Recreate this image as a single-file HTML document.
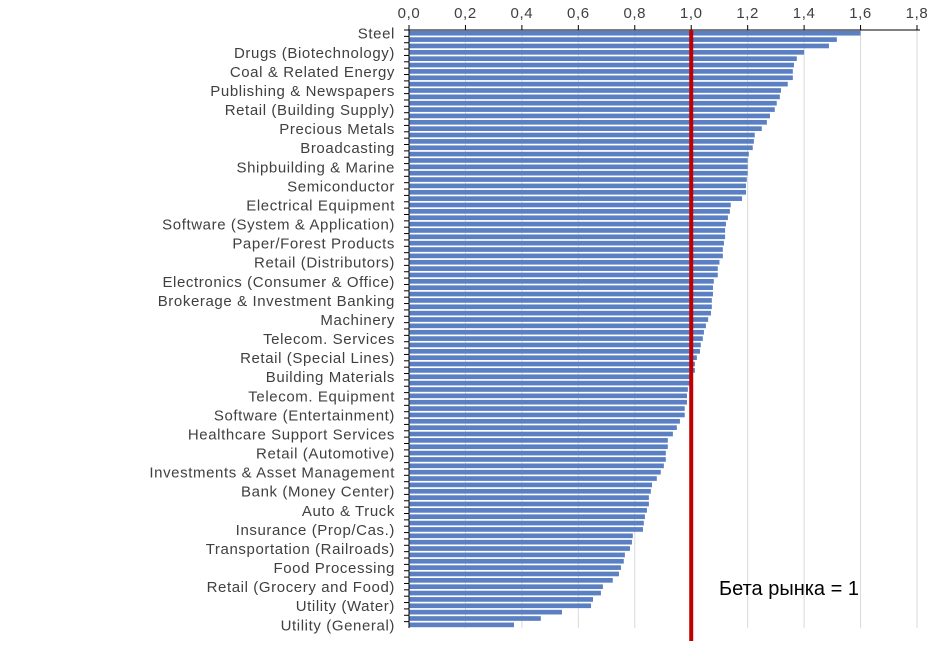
<!DOCTYPE html>
<html><head><meta charset="utf-8"><style>
body{margin:0;background:#fff;width:945px;height:650px;overflow:hidden}
svg text{font-family:"Liberation Sans","DejaVu Sans",sans-serif}
</style></head><body>
<svg id="chart" width="945" height="650" xmlns="http://www.w3.org/2000/svg"></svg>
<script>
const labels=["Steel","","","Drugs (Biotechnology)","","","Coal & Related Energy","","","Publishing & Newspapers","","","Retail (Building Supply)","","","Precious Metals","","","Broadcasting","","","Shipbuilding & Marine","","","Semiconductor","","","Electrical Equipment","","","Software (System & Application)","","","Paper/Forest Products","","","Retail (Distributors)","","","Electronics (Consumer & Office)","","","Brokerage & Investment Banking","","","Machinery","","","Telecom. Services","","","Retail (Special Lines)","","","Building Materials","","","Telecom. Equipment","","","Software (Entertainment)","","","Healthcare Support Services","","","Retail (Automotive)","","","Investments & Asset Management","","","Bank (Money Center)","","","Auto & Truck","","","Insurance (Prop/Cas.)","","","Transportation (Railroads)","","","Food Processing","","","Retail (Grocery and Food)","","","Utility (Water)","","","Utility (General)"];
const betas=[1.60,1.516,1.488,1.40,1.374,1.364,1.36,1.36,1.342,1.318,1.314,1.303,1.296,1.279,1.268,1.25,1.225,1.222,1.218,1.204,1.20,1.20,1.20,1.197,1.194,1.194,1.18,1.14,1.137,1.13,1.123,1.12,1.12,1.116,1.112,1.112,1.10,1.094,1.094,1.08,1.077,1.077,1.073,1.073,1.07,1.06,1.052,1.045,1.041,1.034,1.031,1.02,1.013,1.013,1.0,0.998,0.988,0.985,0.985,0.977,0.977,0.96,0.949,0.935,0.917,0.917,0.91,0.91,0.903,0.892,0.878,0.861,0.857,0.85,0.85,0.843,0.836,0.832,0.829,0.793,0.79,0.783,0.765,0.761,0.751,0.744,0.722,0.687,0.68,0.652,0.645,0.542,0.467,0.372];
const ticks=["0,0","0,2","0,4","0,6","0,8","1,0","1,2","1,4","1,6","1,8"];
const tickVals=[0,0.2,0.4,0.6,0.8,1.0,1.2,1.4,1.6,1.8];
const marketBeta=[1.0];

const NS="http://www.w3.org/2000/svg";
const svg=document.getElementById('chart');
const x0=409,x1=917,vmax=1.8,yTop=30,yBottom=628;
const X=v=>x0+(v/vmax)*(x1-x0);
const pitch=(yBottom-yTop)/betas.length;
const Y=i=>yTop+i*pitch;
function mk(t,a){const e=document.createElementNS(NS,t);for(const k in a)e.setAttribute(k,a[k]);svg.appendChild(e);return e;}
tickVals.forEach((v,i)=>{
  if(i>0){const g=mk('line',{x1:X(v),x2:X(v),y1:yTop,y2:yBottom,stroke:'#d9d9d9','stroke-width':1});
  
  }
  const t=mk('line',{x1:X(v),x2:X(v),y1:yTop-5,y2:yTop,stroke:'#000','stroke-width':1});
  
  
  const tx=mk('text',{x:X(v),y:18,'text-anchor':'middle','font-size':15,'letter-spacing':0.6,fill:'#404040'});
  tx.textContent=ticks[i];
  
  
});
const ax=mk('line',{x1:x0,x2:x1+3,y1:yTop,y2:yTop,stroke:'#000','stroke-width':1});


betas.forEach((b,i)=>{
  const r=mk('rect',{x:x0,y:Y(i)+0.9,width:X(b)-x0,height:pitch-1.7,fill:'#5a7fc2'});
  
  
  const tk=mk('line',{x1:x0-5,x2:x0,y1:Y(i),y2:Y(i),stroke:'#000','stroke-width':1});
  
  
  if(labels[i]){
    const t=mk('text',{x:395,y:Y(i)+pitch/2+5.5,'text-anchor':'end','font-size':15,'letter-spacing':0.6,fill:'#404040'});
    t.textContent=labels[i];
    
    
  }
});
const yl=mk('line',{x1:x0,x2:x0,y1:yTop,y2:yBottom,stroke:'#000','stroke-width':1});


const rl=mk('line',{x1:X(marketBeta[0]),x2:X(marketBeta[0]),y1:yTop,y2:641,stroke:'#c00000','stroke-width':4});


const lt=mk('text',{x:719,y:595,'font-size':20,fill:'#000'});
lt.textContent='Бета рынка = 1';


</script>
</body></html>
